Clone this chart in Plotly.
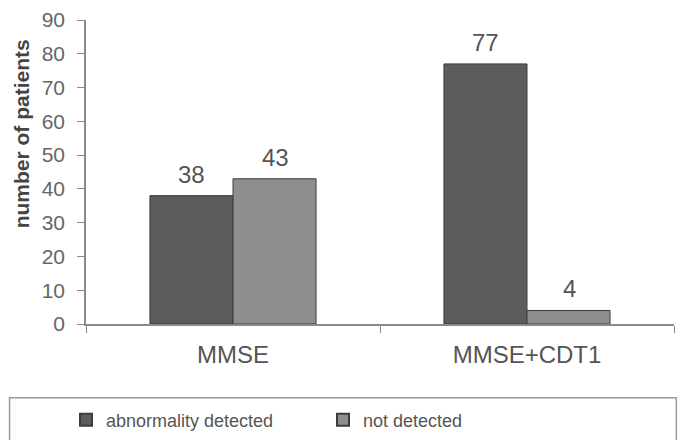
import plotly.graph_objects as go

categories = ["MMSE", "MMSE+CDT1"]
abnormal = [38, 77]
not_detected = [43, 4]
series_names = ["abnormality detected", "not detected"]
y_ticks = [0, 10, 20, 30, 40, 50, 60, 70, 80, 90]
y_title = "number of patients"

FONT = "Liberation Sans, Arial, sans-serif"

fig = go.Figure()
fig.add_trace(go.Bar(x=categories, y=abnormal, name=series_names[0],
                     marker=dict(color="#5c5c5c", line=dict(color="#3c3c3c", width=1))))
fig.add_trace(go.Bar(x=categories, y=not_detected, name=series_names[1],
                     marker=dict(color="#8e8e8e", line=dict(color="#3c3c3c", width=1))))

for vals, shift in ((abnormal, -42), (not_detected, 42)):
    for c, v in zip(categories, vals):
        fig.add_annotation(x=c, y=v, xref="x", yref="y", text=str(v), showarrow=False,
                           xshift=shift, yanchor="bottom", yshift=6,
                           font=dict(family=FONT, size=24, color="#555555"))

# y-axis title (placed as in the original, above the axis centre)
fig.add_annotation(x=-0.110, y=0.625, xref="paper", yref="paper", text="<b>" + y_title + "</b>",
                   textangle=-90, showarrow=False, xanchor="center", yanchor="middle",
                   font=dict(family=FONT, size=21, color="#444444"))

# legend frame
fig.add_shape(type="rect", xref="paper", yref="paper",
              x0=-0.130, x1=1.004, y0=-0.385, y1=-0.243,
              line=dict(color="#9a9a9a", width=1.5), fillcolor="rgba(0,0,0,0)")

fig.update_layout(
    width=670, height=432,
    margin=dict(l=78, r=4, t=12, b=116),
    paper_bgcolor="white", plot_bgcolor="white",
    barmode="group", bargap=0.435, bargroupgap=0,
    font=dict(family=FONT, color="#555555"),
    showlegend=True,
    legend=dict(orientation="h", xref="container", yref="container",
                x=0.0866, xanchor="left", y=0.0463, yanchor="middle",
                entrywidth=212, entrywidthmode="pixels",
                font=dict(family=FONT, size=18, color="#555555"),
                bgcolor="rgba(0,0,0,0)", itemsizing="constant"),
    xaxis=dict(showline=True, linecolor="#8a8a8a", linewidth=1.5, automargin=False,
               ticks="outside", tickson="boundaries", ticklen=7, tickcolor="#8a8a8a",
               ticklabelstandoff=8, ticklabeloverflow="allow",
               tickfont=dict(family=FONT, size=24, color="#555555"), showgrid=False),
    yaxis=dict(range=[0, 90], tickvals=y_ticks, showline=True, linecolor="#8a8a8a", linewidth=1.5,
               automargin=False, ticklabelstandoff=8, ticklabeloverflow="allow",
               ticks="outside", ticklen=7, tickcolor="#8a8a8a", showgrid=False, zeroline=False,
               tickfont=dict(family=FONT, size=21, color="#666666")),
)

fig.write_html("out.html")
